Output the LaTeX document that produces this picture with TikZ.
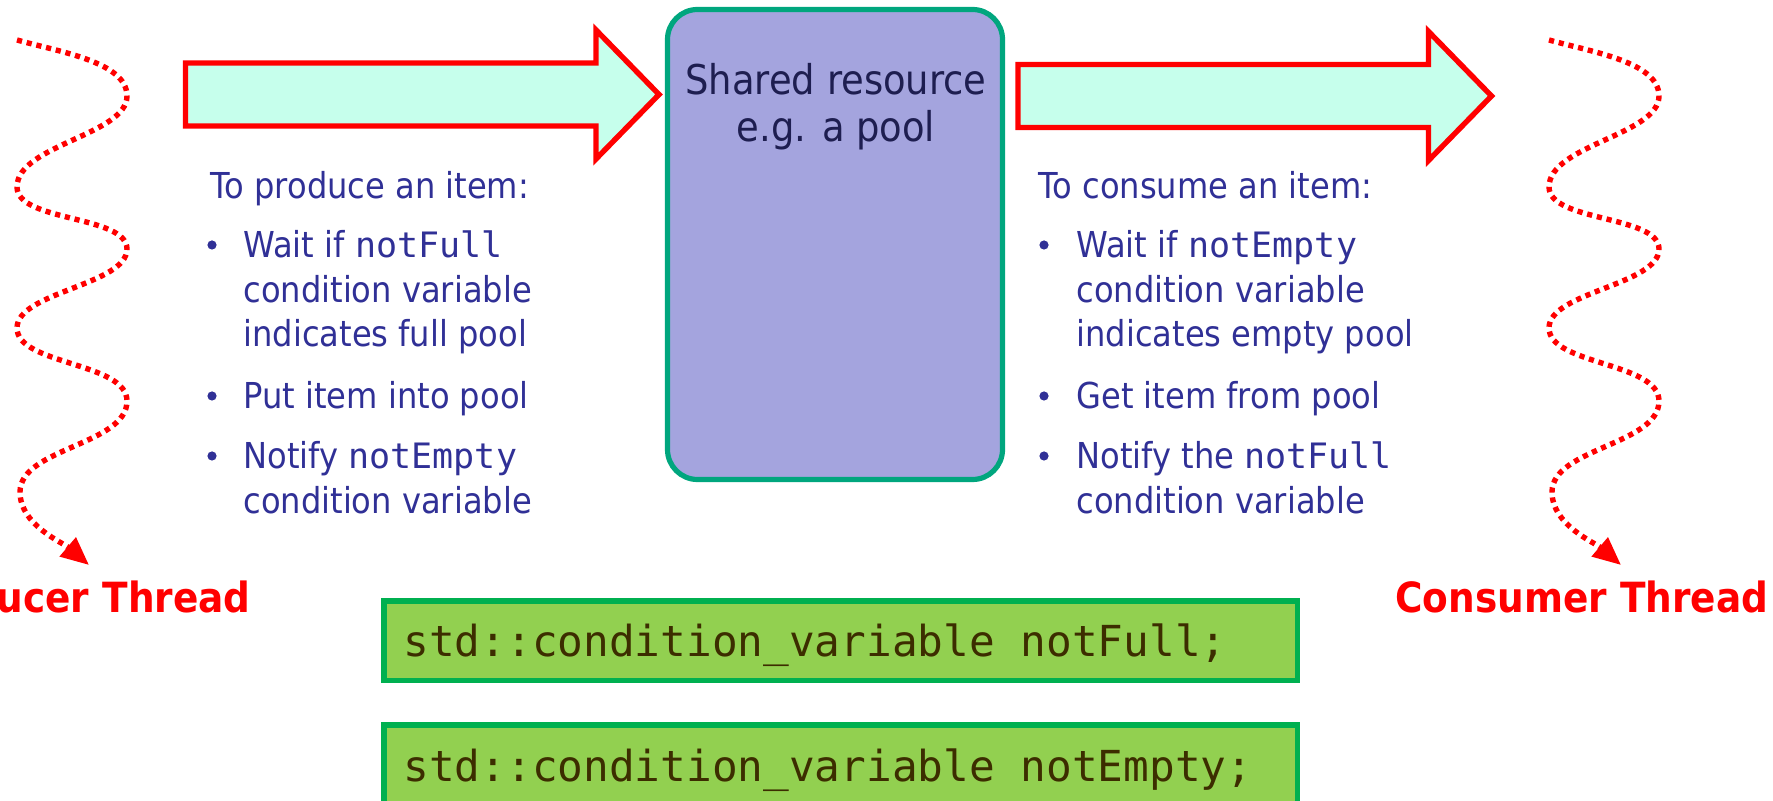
\documentclass[tikz,border=0pt]{standalone}
\usepackage{fontspec}
\setmainfont{DejaVu Sans}[FakeStretch=0.9]
\setmonofont{DejaVu Sans Mono}[Scale=0.98]
\usetikzlibrary{arrows.meta}
\definecolor{txtblue}{RGB}{48,48,150}
\definecolor{navytext}{RGB}{30,30,80}
\definecolor{mintfill}{RGB}{198,255,236}
\definecolor{poolfill}{RGB}{164,164,222}
\definecolor{poolline}{RGB}{0,166,126}
\definecolor{codeline}{RGB}{0,176,80}
\definecolor{codefill}{RGB}{146,208,80}
\definecolor{codetext}{RGB}{60,45,0}
\definecolor{threadred}{RGB}{255,0,0}
\begin{document}
\begin{tikzpicture}[x=0.5pt,y=-0.5pt,
  wave/.style={draw=threadred, line width=2.7pt, dash pattern=on 2.6pt off 2.4pt,
    -{Triangle[length=14pt,width=12pt]}},
  blockarrow/.style={draw=threadred, fill=mintfill, line width=2.7pt, line join=miter},
  poolbox/.style={draw=poolline, fill=poolfill, line width=2.6pt, rounded corners=15pt,
    minimum width=167.5pt, minimum height=235pt, inner sep=0pt},
  pooltxt/.style={anchor=base, text=navytext, inner sep=0pt, font=\fontsize{20.5pt}{23.5pt}\selectfont},
  txt/.style={anchor=base west, text=txtblue, inner sep=0pt, font=\fontsize{17.85pt}{22pt}\selectfont},
  bulletdot/.style={circle, fill=txtblue, minimum size=4.6pt, inner sep=0pt},
  threadlbl/.style={text=threadred, inner sep=0pt, font=\bfseries\fontsize{20.8pt}{24pt}\selectfont},
  codebox/.style={draw=codeline, fill=codefill, line width=2.6pt,
    minimum width=456.75pt, minimum height=39.75pt, inner sep=0pt},
  codetxt/.style={anchor=base west, text=codetext, inner sep=0pt, font=\ttfamily\fontsize{21.8pt}{24pt}\selectfont}
]
\useasboundingbox (0,0) rectangle (1773,801);
\clip (0,0) rectangle (1773,801);

% threads
\draw[wave] (17,40) .. controls (60,52) and (127,62) .. (127,96)
  .. controls (127,135) and (17,145) .. (17,187)
  .. controls (17,222) and (127,215) .. (127,249)
  .. controls (127,285) and (17,292) .. (17,328)
  .. controls (17,365) and (127,362) .. (127,401)
  .. controls (127,445) and (20,448) .. (20,492)
  .. controls (20,525) and (62,542) .. (89,565);
\begin{scope}[shift={(1532,0)}]
\draw[wave] (17,40) .. controls (60,52) and (127,62) .. (127,96)
  .. controls (127,135) and (17,145) .. (17,187)
  .. controls (17,222) and (127,215) .. (127,249)
  .. controls (127,285) and (17,292) .. (17,328)
  .. controls (17,365) and (127,362) .. (127,401)
  .. controls (127,445) and (20,448) .. (20,492)
  .. controls (20,525) and (62,542) .. (89,565);
\end{scope}

% block arrows
\draw[blockarrow] (185.5,63) -- (596,63) -- (596,30) -- (659,94.5) -- (596,159) -- (596,126) -- (185.5,126) -- cycle;
\begin{scope}[shift={(832.5,1.5)}]
\draw[blockarrow] (185.5,63) -- (596,63) -- (596,30) -- (659,94.5) -- (596,159) -- (596,126) -- (185.5,126) -- cycle;
\end{scope}

% shared resource
\node[poolbox] (pool) at (835,244.5) {};
\node[pooltxt] (pool1) at (836,95) {Shared resource};
\node[pooltxt] (pool2) at (836,142) {e.g. a pool};

% producer text
\node[txt] (ph) at (210,199) {To produce an item:};
\node[bulletdot] (pb1) at (212,245) {};
\node[txt] (pl1) at (243,258) {Wait if \texttt{notFull}};
\node[txt] (pl2) at (243,303) {condition variable};
\node[txt] (pl3) at (243,347) {indicates full pool};
\node[bulletdot] (pb2) at (212,396) {};
\node[txt] (pl4) at (243,409) {Put item into pool};
\node[bulletdot] (pb3) at (212,456) {};
\node[txt] (pl5) at (243,469) {Notify \texttt{notEmpty}};
\node[txt] (pl6) at (243,514) {condition variable};

% consumer text
\node[txt] (ch) at (1038,199) {To consume an item:};
\node[bulletdot] (cb1) at (1044,245) {};
\node[txt] (cl1) at (1076,258) {Wait if \texttt{notEmpty}};
\node[txt] (cl2) at (1076,303) {condition variable};
\node[txt] (cl3) at (1076,347) {indicates empty pool};
\node[bulletdot] (cb2) at (1044,396) {};
\node[txt] (cl4) at (1076,409) {Get item from pool};
\node[bulletdot] (cb3) at (1044,456) {};
\node[txt] (cl5) at (1076,469) {Notify the \texttt{notFull}};
\node[txt] (cl6) at (1076,514) {condition variable};

% thread labels
\node[threadlbl, anchor=base east] (prod) at (251,613) {Producer Thread};
\node[threadlbl, anchor=base west] (cons) at (1395,613) {Consumer Thread};

% code boxes
\node[codebox] (cv1) at (840.75,640.75) {};
\node[codetxt] (cv1t) at (403,657) {std::condition\_variable notFull;};
\node[codebox] (cv2) at (840.75,764.75) {};
\node[codetxt] (cv2t) at (403,781) {std::condition\_variable notEmpty;};
\end{tikzpicture}
\end{document}
